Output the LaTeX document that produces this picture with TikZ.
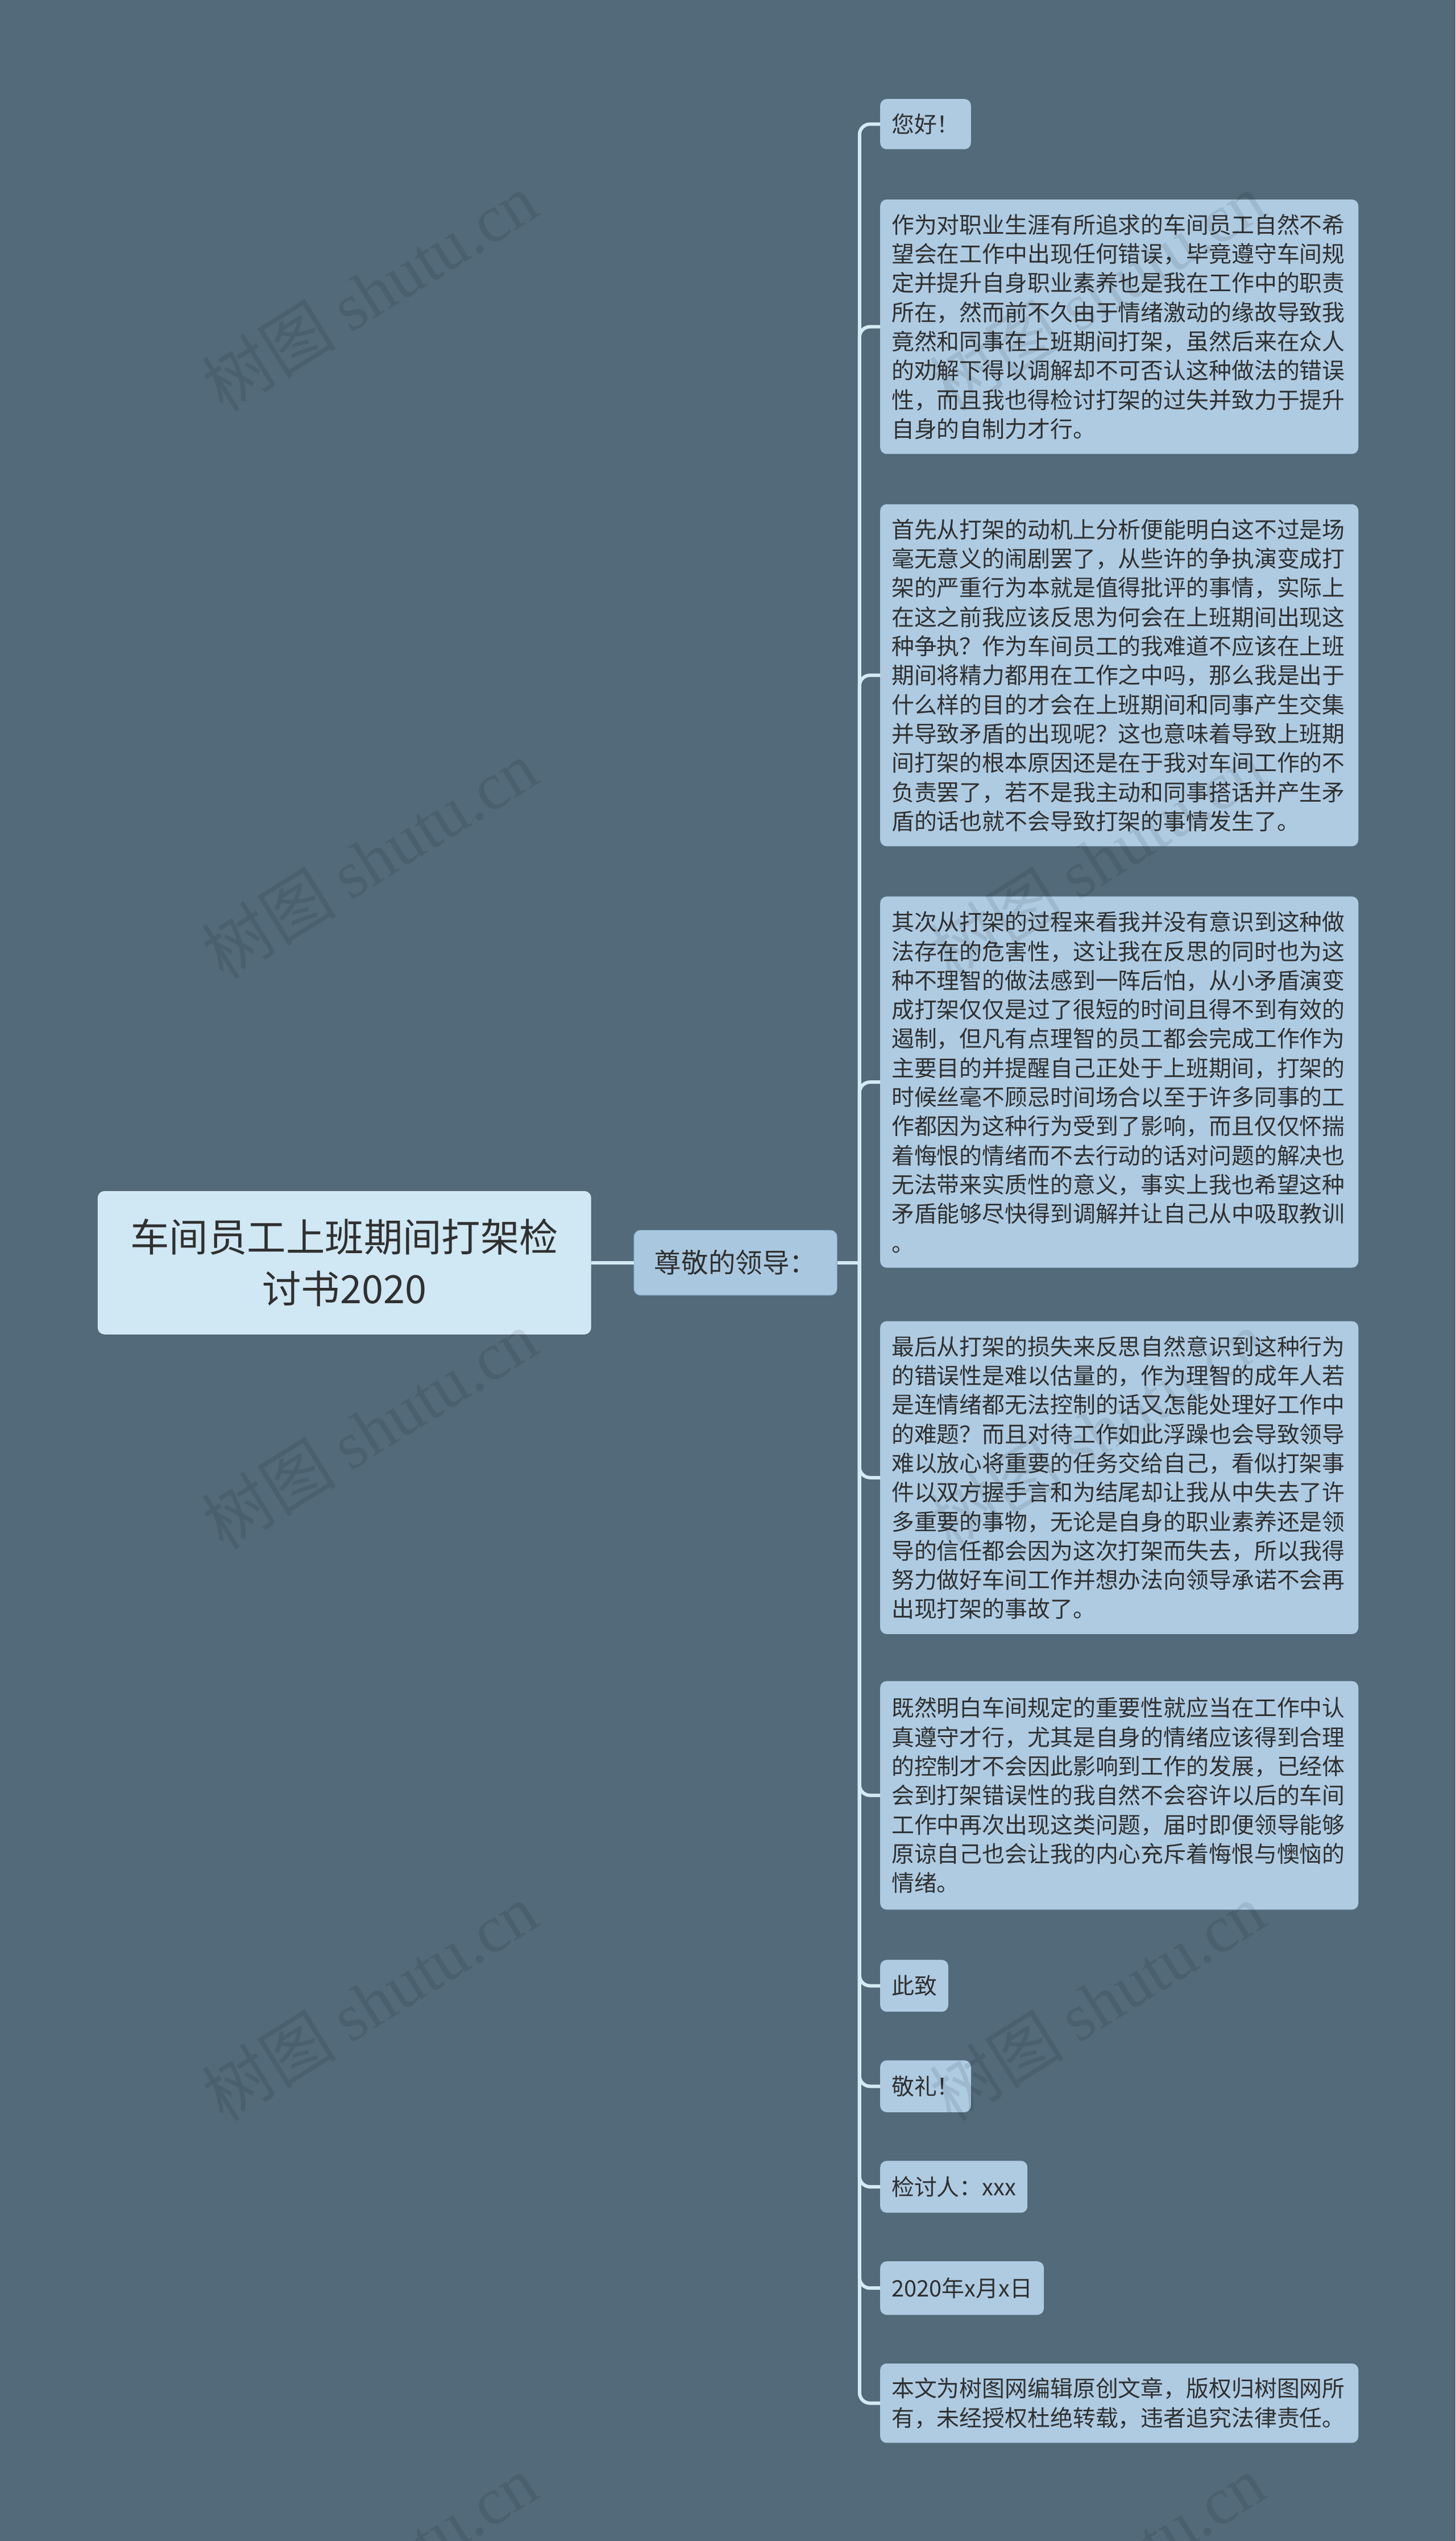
\documentclass[tikz,border=0pt]{standalone}
\usepackage{fontspec}
\setmainfont{Noto Sans CJK SC}
\newfontfamily\wmlatin{Liberation Serif}
\definecolor{bgcol}{HTML}{536A7A}
\definecolor{leafcol}{HTML}{AECBE2}
\definecolor{rootcol}{HTML}{D0E7F4}
\definecolor{rootline}{HTML}{E2F1F9}
\definecolor{midcol}{HTML}{A9C8E0}
\definecolor{midline}{HTML}{94B6CF}
\definecolor{linecol}{HTML}{D4EBF5}
\definecolor{txtcol}{HTML}{303030}
\begin{document}
\begin{tikzpicture}[x=1mm,y=-1mm,
  leaf/.style={anchor=north west,fill=leafcol,rounded corners=4mm,inner xsep=7mm,inner ysep=0pt,
    text=txtcol,align=left,font=\fontsize{39.8pt}{51.2pt}\selectfont},
  para/.style={leaf,text width=281mm},
  branch/.style={draw=linecol,line width=2.1mm,rounded corners=6.5mm},
  wmark/.style={rotate=32,text=black,text opacity=0.09,font=\fontsize{118pt}{118pt}\selectfont}]
\useasboundingbox (0,0) rectangle (898,1567.6);
\fill[bgcol] (0,0) rectangle (898,1567.6);
% root and first level
\node[fill=rootcol,draw=rootline,line width=0.4mm,rounded corners=4mm,minimum width=304mm,minimum height=88mm,
  inner sep=0pt,align=center,text=txtcol,font=\fontsize{68.3pt}{91pt}\selectfont] (root) at (212.5,779)
  {车间员工上班期间打架检\\讨书2020};
\node[anchor=west,fill=midcol,draw=midline,line width=0.4mm,rounded corners=4mm,minimum height=40mm,
  inner xsep=12.5mm,inner ysep=0pt,text=txtcol,font=\fontsize{47.5pt}{52pt}\selectfont] (mid) at (391,779) {尊敬的领导：};
\coordinate (trunk) at (530.3,779);
% leaves
\node[leaf,minimum height=31mm] (hi) at (543,61) {您好！};
\node[para,minimum height=157mm] (p1) at (543,123) {作为对职业生涯有所追求的车间员工自然不希\\
望会在工作中出现任何错误，毕竟遵守车间规\\
定并提升自身职业素养也是我在工作中的职责\\
所在，然而前不久由于情绪激动的缘故导致我\\
竟然和同事在上班期间打架，虽然后来在众人\\
的劝解下得以调解却不可否认这种做法的错误\\
性，而且我也得检讨打架的过失并致力于提升\\
自身的自制力才行。};
\node[para,minimum height=211mm] (p2) at (543,311) {首先从打架的动机上分析便能明白这不过是场\\
毫无意义的闹剧罢了，从些许的争执演变成打\\
架的严重行为本就是值得批评的事情，实际上\\
在这之前我应该反思为何会在上班期间出现这\\
种争执？作为车间员工的我难道不应该在上班\\
期间将精力都用在工作之中吗，那么我是出于\\
什么样的目的才会在上班期间和同事产生交集\\
并导致矛盾的出现呢？这也意味着导致上班期\\
间打架的根本原因还是在于我对车间工作的不\\
负责罢了，若不是我主动和同事搭话并产生矛\\
盾的话也就不会导致打架的事情发生了。};
\node[para,minimum height=229mm] (p3) at (543,553) {其次从打架的过程来看我并没有意识到这种做\\
法存在的危害性，这让我在反思的同时也为这\\
种不理智的做法感到一阵后怕，从小矛盾演变\\
成打架仅仅是过了很短的时间且得不到有效的\\
遏制，但凡有点理智的员工都会完成工作作为\\
主要目的并提醒自己正处于上班期间，打架的\\
时候丝毫不顾忌时间场合以至于许多同事的工\\
作都因为这种行为受到了影响，而且仅仅怀揣\\
着悔恨的情绪而不去行动的话对问题的解决也\\
无法带来实质性的意义，事实上我也希望这种\\
矛盾能够尽快得到调解并让自己从中吸取教训\\
。};
\node[para,minimum height=193mm] (p4) at (543,815) {最后从打架的损失来反思自然意识到这种行为\\
的错误性是难以估量的，作为理智的成年人若\\
是连情绪都无法控制的话又怎能处理好工作中\\
的难题？而且对待工作如此浮躁也会导致领导\\
难以放心将重要的任务交给自己，看似打架事\\
件以双方握手言和为结尾却让我从中失去了许\\
多重要的事物，无论是自身的职业素养还是领\\
导的信任都会因为这次打架而失去，所以我得\\
努力做好车间工作并想办法向领导承诺不会再\\
出现打架的事故了。};
\node[para,minimum height=141mm] (p5) at (543,1037) {既然明白车间规定的重要性就应当在工作中认\\
真遵守才行，尤其是自身的情绪应该得到合理\\
的控制才不会因此影响到工作的发展，已经体\\
会到打架错误性的我自然不会容许以后的车间\\
工作中再次出现这类问题，届时即便领导能够\\
原谅自己也会让我的内心充斥着悔恨与懊恼的\\
情绪。};
\node[leaf,minimum height=32mm] (cizhi) at (543,1209) {此致};
\node[leaf,minimum height=32mm] (jingli) at (543,1271) {敬礼！};
\node[leaf,minimum height=32mm] (sign) at (543,1333) {检讨人：xxx};
\node[leaf,minimum height=33mm] (date) at (543,1395) {2020年x月x日};
\node[para,minimum height=49mm] (note) at (543,1458) {本文为树图网编辑原创文章，版权归树图网所\\
有，未经授权杜绝转载，违者追究法律责任。};
% connectors
\draw[draw=linecol,line width=2.2mm] (root.east) -- (mid.west);
\draw[branch] (mid.east) -- (trunk);
\foreach \n in {hi,p1,p2,p3,p4,p5,cizhi,jingli,sign,date,note}
  \draw[branch] (trunk) |- (\n.west);
% watermarks
\foreach \wx in {228,677}
  \foreach \wy in {180,530,882,1235,1588}
    \node[wmark] at (\wx,\wy) {树图 {\wmlatin shutu.cn}};
\end{tikzpicture}
\end{document}
